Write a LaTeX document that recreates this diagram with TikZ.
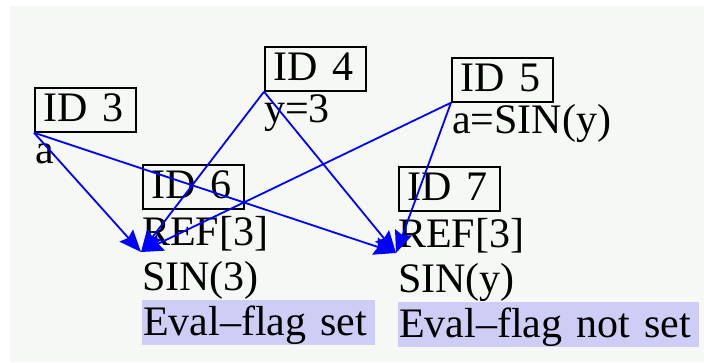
\documentclass[tikz,border=0pt]{standalone}
\usepackage{fontspec}
\setmainfont{Liberation Serif}
\usetikzlibrary{arrows.meta}
\definecolor{bgc}{RGB}{245,248,245}
\definecolor{hl}{RGB}{205,205,245}
\definecolor{arr}{RGB}{0,0,255}
\begin{document}
\begin{tikzpicture}[x=1pt,y=-1pt,
  font=\fontsize{42}{45}\selectfont,
  idbox/.style={draw=black, line width=1.7pt, anchor=north west, minimum width=101pt,
    inner xsep=9pt, inner ysep=0pt, text height=34pt, text depth=10pt,
    text width=83pt, align=left},
  lbl/.style={anchor=base west, inner sep=0pt},
  flag/.style={anchor=base west, fill=hl, inner xsep=1pt, inner ysep=0pt,
    text height=35pt, text depth=10pt, align=left},
  link/.style={draw=arr, line width=1.8pt,
    -{Stealth[length=22pt,width=18pt,inset=3pt]}}]
\useasboundingbox (0,0) rectangle (704,362);
\fill[bgc] (10,6) rectangle (704,362);
% boxes
\node[idbox] (id3) at (34,87) {ID 3};
\node[idbox] (id4) at (264,46) {ID 4};
\node[idbox] (id5) at (451,57) {ID 5};
\node[idbox] (id6) at (142,164) {ID 6};
\node[idbox] (id7) at (398,166) {ID 7};
% labels
\node[lbl] (a3) at (35,163) {a};
\node[lbl] (y4) at (264,122) {y=3};
\node[lbl] (a5) at (452,133) {a=SIN(y)};
\node[lbl] (ref6) at (142,245) {REF[3]};
\node[lbl] (sin6) at (142,290) {SIN(3)};
\node[flag, text width=231pt] (flag6) at (142,335) {Eval–flag set};
\node[lbl] (ref7) at (398,247) {REF[3]};
\node[lbl] (sin7) at (398,292) {SIN(y)};
\node[flag, text width=299pt] (flag7) at (398,337) {Eval–flag not set};
% arrow targets
\coordinate (t6) at ([shift={(-1,7)}]ref6.base west);
\coordinate (t7) at ([shift={(-2,6)}]ref7.base west);
% connectors
\draw[link] (id3.south west) -- (t6);
\draw[link] (id3.south west) -- (t7);
\draw[link] (id4.south west) -- (t6);
\draw[link] (id4.south west) -- (t7);
\draw[link] (id5.south west) -- (t6);
\draw[link] (id5.south west) -- (t7);
\end{tikzpicture}
\end{document}
